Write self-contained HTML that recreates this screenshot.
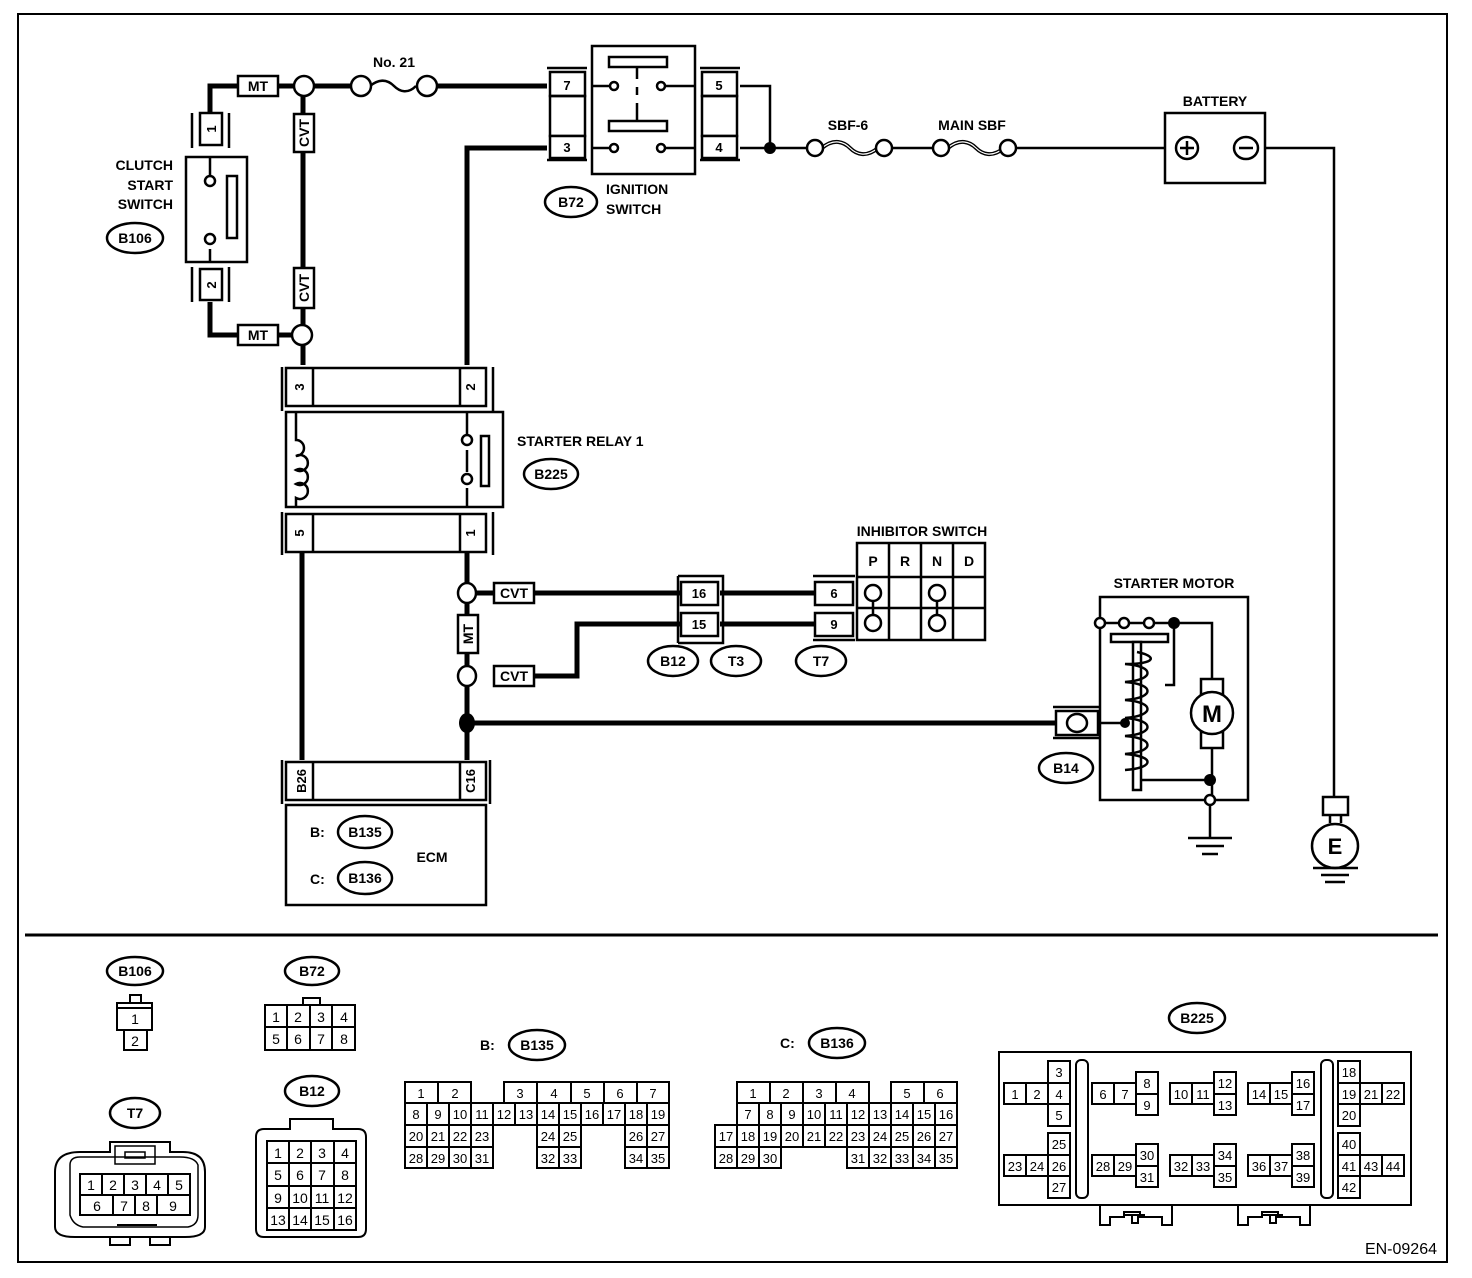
<!DOCTYPE html>
<html><head><meta charset="utf-8"><style>
html,body{margin:0;padding:0;background:#fff}
svg{display:block}
text{font-family:"Liberation Sans",sans-serif;fill:#000}
.b{font-weight:bold;font-size:14px}
.p{font-weight:bold;font-size:13px}
.n{font-size:14px}
.s{font-size:13px}
</style></head><body>
<svg width="1472" height="1278" viewBox="0 0 1472 1278" xmlns="http://www.w3.org/2000/svg">
<rect x="18" y="14" width="1429" height="1248" fill="none" stroke="#000" stroke-width="2"/>
<line x1="25" y1="935" x2="1438" y2="935" stroke="#000" stroke-width="3"/>

<g fill="none" stroke="#000" stroke-width="5">
<polyline points="210,112 210,86 547,86"/>
<polyline points="210,302 210,335 302,335"/>
<line x1="303" y1="86" x2="303" y2="365"/>
<polyline points="547,148 467,148 467,365"/>
<line x1="302" y1="552" x2="302" y2="760"/>
<line x1="467" y1="552" x2="467" y2="760"/>
<line x1="467" y1="593" x2="680" y2="593"/>
<polyline points="534,676 577,676 577,624 680,624"/>
<line x1="720" y1="593" x2="815" y2="593"/>
<line x1="720" y1="624" x2="815" y2="624"/>
<line x1="467" y1="723" x2="1058" y2="723"/>
</g>
<g fill="none" stroke="#000" stroke-width="2.5">
<polyline points="740,86 770,86 770,148"/>
<line x1="740" y1="148" x2="1165" y2="148"/>
<polyline points="1265,148 1334,148 1334,797"/>
</g>

<g fill="#fff" stroke="#000" stroke-width="2.5">
<rect x="238" y="76" width="40" height="20"/>
<rect x="238" y="325" width="40" height="20"/>
<rect x="294" y="114" width="20" height="38"/>
<rect x="294" y="268" width="20" height="40"/>
<rect x="494" y="583" width="40" height="20"/>
<rect x="494" y="666" width="40" height="20"/>
<rect x="458" y="615" width="20" height="38"/>
</g>
<text class="b" x="258" y="91" text-anchor="middle">MT</text>
<text class="b" x="258" y="340" text-anchor="middle">MT</text>
<text class="b" x="514" y="598" text-anchor="middle">CVT</text>
<text class="b" x="514" y="681" text-anchor="middle">CVT</text>
<text class="b" transform="translate(309,133) rotate(-90)" text-anchor="middle">CVT</text>
<text class="b" transform="translate(309,288) rotate(-90)" text-anchor="middle">CVT</text>
<text class="b" transform="translate(473,634) rotate(-90)" text-anchor="middle">MT</text>

<g fill="#fff" stroke="#000" stroke-width="2.5">
<circle cx="304" cy="86" r="10"/>
<circle cx="302" cy="335" r="10"/>
<ellipse cx="467" cy="593" rx="9" ry="10"/>
<ellipse cx="467" cy="676" rx="9" ry="10"/>
</g>
<ellipse cx="467" cy="723" rx="8" ry="10" fill="#000"/>
<circle cx="770" cy="148" r="6" fill="#000"/>

<rect x="366" y="80" width="54" height="12" fill="#fff"/>
<path d="M370,86 c10,-8 18,-6 24,0 c6,6 14,8 22,0" fill="none" stroke="#000" stroke-width="2.5"/>
<circle cx="361" cy="86" r="10" fill="#fff" stroke="#000" stroke-width="2.5"/>
<circle cx="427" cy="86" r="10" fill="#fff" stroke="#000" stroke-width="2.5"/>
<text class="b" x="394" y="67" text-anchor="middle">No. 21</text>

<rect x="822" y="141" width="56" height="14" fill="#fff"/>
<path d="M822,148 c12,-10 22,-6 28,0 c6,6 16,10 28,0" fill="none" stroke="#000" stroke-width="4"/>
<path d="M822,148 c12,-10 22,-6 28,0 c6,6 16,10 28,0" fill="none" stroke="#fff" stroke-width="1.2"/>
<rect x="948" y="141" width="54" height="14" fill="#fff"/>
<path d="M948,148 c12,-10 22,-6 28,0 c6,6 16,10 28,0" fill="none" stroke="#000" stroke-width="4"/>
<path d="M948,148 c12,-10 22,-6 28,0 c6,6 16,10 28,0" fill="none" stroke="#fff" stroke-width="1.2"/>
<g fill="#fff" stroke="#000" stroke-width="2.5">
<circle cx="815" cy="148" r="8"/><circle cx="884" cy="148" r="8"/>
<circle cx="941" cy="148" r="8"/><circle cx="1008" cy="148" r="8"/>
</g>
<text class="b" x="848" y="130" text-anchor="middle">SBF-6</text>
<text class="b" x="972" y="130" text-anchor="middle">MAIN SBF</text>

<rect x="1165" y="113" width="100" height="70" fill="#fff" stroke="#000" stroke-width="2.5"/>
<circle cx="1187" cy="148" r="11" fill="none" stroke="#000" stroke-width="2.5"/>
<path d="M1180,148h14M1187,141v14" stroke="#000" stroke-width="2.5"/>
<ellipse cx="1246" cy="148" rx="12" ry="11" fill="none" stroke="#000" stroke-width="2.5"/>
<path d="M1239,148h14" stroke="#000" stroke-width="2.5"/>
<text class="b" x="1215" y="106" text-anchor="middle">BATTERY</text>

<rect x="1323" y="797" width="25" height="18" fill="#fff" stroke="#000" stroke-width="2.5"/>
<path d="M1330,815v8M1341,815v8" stroke="#000" stroke-width="2.5"/>
<ellipse cx="1335" cy="846" rx="23" ry="22" fill="#fff" stroke="#000" stroke-width="2.5"/>
<text x="1335" y="854" text-anchor="middle" style="font-weight:bold;font-size:22px">E</text>
<path d="M1313,868h45M1321,875h28M1325,882h20" stroke="#000" stroke-width="2.5"/>

<g fill="none" stroke="#000" stroke-width="2.5">
<path d="M192,113v35M229,113v35M192,267v35M229,267v35"/>
<rect x="200" y="113" width="22" height="32" fill="#fff"/>
<rect x="200" y="269" width="22" height="31" fill="#fff"/>
<rect x="186" y="157" width="61" height="105" fill="#fff"/>
<line x1="210" y1="157" x2="210" y2="176"/><line x1="210" y1="249" x2="210" y2="262"/>
<circle cx="210" cy="181" r="5" fill="#fff"/><circle cx="210" cy="239" r="5" fill="#fff"/>
<rect x="227" y="176" width="10" height="62"/>
</g>
<text class="p" transform="translate(216,129) rotate(-90)" text-anchor="middle">1</text>
<text class="p" transform="translate(216,285) rotate(-90)" text-anchor="middle">2</text>
<text class="b" x="173" y="170" text-anchor="end">CLUTCH</text>
<text class="b" x="173" y="190" text-anchor="end">START</text>
<text class="b" x="173" y="209" text-anchor="end">SWITCH</text>

<g fill="none" stroke="#000" stroke-width="2.5">
<path d="M547,68h40M547,160h40M700,68h40M700,160h40"/>
<rect x="550" y="72" width="35" height="24" fill="#fff"/>
<rect x="550" y="96" width="35" height="40"/>
<rect x="550" y="136" width="35" height="22" fill="#fff"/>
<rect x="702" y="72" width="35" height="24" fill="#fff"/>
<rect x="702" y="96" width="35" height="40"/>
<rect x="702" y="136" width="35" height="22" fill="#fff"/>
<rect x="592" y="46" width="103" height="128" fill="#fff"/>
<rect x="609" y="57" width="58" height="10"/>
<rect x="609" y="121" width="58" height="10"/>
<path d="M637,67v12M637,87v8M637,103v18"/>
<path d="M592,86h18M664,86h31M592,148h18M664,148h31"/>
<circle cx="614" cy="86" r="4" fill="#fff"/><circle cx="661" cy="86" r="4" fill="#fff"/>
<circle cx="614" cy="148" r="4" fill="#fff"/><circle cx="661" cy="148" r="4" fill="#fff"/>
</g>
<text class="p" x="567" y="90" text-anchor="middle">7</text>
<text class="p" x="567" y="152" text-anchor="middle">3</text>
<text class="p" x="719" y="90" text-anchor="middle">5</text>
<text class="p" x="719" y="152" text-anchor="middle">4</text>
<ellipse cx="571" cy="202" rx="26" ry="15" fill="#fff" stroke="#000" stroke-width="2.5"/>
<text class="b" x="571" y="207" text-anchor="middle">B72</text>
<text class="b" x="606" y="194">IGNITION</text>
<text class="b" x="606" y="214">SWITCH</text>

<g fill="none" stroke="#000" stroke-width="2.5">
<path d="M282,367v44M493,367v44M282,512v43M493,512v43"/>
<rect x="286" y="368" width="200" height="38" fill="#fff"/>
<line x1="313" y1="368" x2="313" y2="406"/><line x1="460" y1="368" x2="460" y2="406"/>
<rect x="286" y="412" width="217" height="95" fill="#fff"/>
<rect x="286" y="514" width="200" height="38" fill="#fff"/>
<line x1="313" y1="514" x2="313" y2="552"/><line x1="460" y1="514" x2="460" y2="552"/>
<path d="M296,412v28 a8,8 0 1 1 0,16 a8,8 0 1 1 0,14 a8,8 0 1 1 0,14 a8,8 0 1 1 0,14 v9"/>
<path d="M467,412v22M467,450v22M467,488v19"/>
<circle cx="467" cy="440" r="5" fill="#fff"/><circle cx="467" cy="479" r="5" fill="#fff"/>
<rect x="481" y="436" width="8" height="50"/>
</g>
<text class="p" transform="translate(304,387) rotate(-90)" text-anchor="middle">3</text>
<text class="p" transform="translate(475,387) rotate(-90)" text-anchor="middle">2</text>
<text class="p" transform="translate(304,533) rotate(-90)" text-anchor="middle">5</text>
<text class="p" transform="translate(475,533) rotate(-90)" text-anchor="middle">1</text>
<text class="b" x="517" y="446">STARTER RELAY 1</text>
<ellipse cx="551" cy="474" rx="27" ry="15" fill="#fff" stroke="#000" stroke-width="2.5"/>
<text class="b" x="551" y="479" text-anchor="middle">B225</text>

<g fill="none" stroke="#000" stroke-width="2.5">
<path d="M678,576h45v5M678,643h45v-5M678,576v67M723,576v67"/>
<rect x="681" y="582" width="37" height="23" fill="#fff"/>
<rect x="681" y="613" width="37" height="23" fill="#fff"/>
<path d="M813,576h42M813,640h42"/>
<rect x="815" y="582" width="38" height="23" fill="#fff"/>
<rect x="815" y="613" width="38" height="23" fill="#fff"/>
</g>
<text class="p" x="699" y="598" text-anchor="middle">16</text>
<text class="p" x="699" y="629" text-anchor="middle">15</text>
<text class="p" x="834" y="598" text-anchor="middle">6</text>
<text class="p" x="834" y="629" text-anchor="middle">9</text>
<g fill="#fff" stroke="#000" stroke-width="2.5">
<ellipse cx="673" cy="661" rx="25" ry="15"/>
<ellipse cx="736" cy="661" rx="25" ry="15"/>
<ellipse cx="821" cy="661" rx="25" ry="15"/>
</g>
<text class="b" x="673" y="666" text-anchor="middle">B12</text>
<text class="b" x="736" y="666" text-anchor="middle">T3</text>
<text class="b" x="821" y="666" text-anchor="middle">T7</text>

<g fill="none" stroke="#000" stroke-width="2.5">
<rect x="857" y="543" width="128" height="97"/>
<path d="M889,543v97M921,543v97M953,543v97M857,577h128M857,608h128"/>
<path d="M873,600v14M937,600v14"/>
<circle cx="873" cy="593" r="8" fill="#fff"/><circle cx="873" cy="623" r="8" fill="#fff"/>
<circle cx="937" cy="593" r="8" fill="#fff"/><circle cx="937" cy="623" r="8" fill="#fff"/>
</g>
<text class="b" x="922" y="536" text-anchor="middle">INHIBITOR SWITCH</text>
<text class="b" x="873" y="566" text-anchor="middle">P</text>
<text class="b" x="905" y="566" text-anchor="middle">R</text>
<text class="b" x="937" y="566" text-anchor="middle">N</text>
<text class="b" x="969" y="566" text-anchor="middle">D</text>

<g fill="none" stroke="#000" stroke-width="2.5">
<path d="M1053,707h48M1053,738h48"/>
<rect x="1056" y="711" width="42" height="24" fill="#fff"/>
<ellipse cx="1077" cy="723" rx="10" ry="9"/>
<rect x="1100" y="597" width="148" height="203"/>
<path d="M1100,723h25M1104,623h70v62h-9M1174,623h38v56M1212,748v52M1134,780h76"/>
<rect x="1111" y="634" width="57" height="8" fill="#fff"/>
<rect x="1133" y="642" width="8" height="148" fill="#fff"/>
<path d="M1137,652 c20,4 20,12 -12,12 c30,2 30,16 0,18 c30,2 30,16 0,18 c30,2 30,16 0,18 c30,2 30,16 0,18 c30,2 30,16 0,18 c30,2 30,14 0,16"/>
<rect x="1201" y="679" width="22" height="16" fill="#fff"/>
<rect x="1201" y="732" width="22" height="16" fill="#fff"/>
<ellipse cx="1212" cy="713" rx="21" ry="21" fill="#fff"/>
<circle cx="1100" cy="623" r="5" fill="#fff"/><circle cx="1124" cy="623" r="5" fill="#fff"/><circle cx="1149" cy="623" r="5" fill="#fff"/>
<circle cx="1210" cy="800" r="5" fill="#fff"/>
<path d="M1210,805v33M1188,838h44M1196,846h28M1202,854h16"/>
</g>
<circle cx="1174" cy="623" r="6" fill="#000"/>
<circle cx="1125" cy="723" r="5" fill="#000"/>
<circle cx="1210" cy="780" r="6" fill="#000"/>
<text x="1212" y="722" text-anchor="middle" style="font-weight:bold;font-size:24px">M</text>
<text class="b" x="1174" y="588" text-anchor="middle">STARTER MOTOR</text>
<ellipse cx="1066" cy="768" rx="27" ry="15" fill="#fff" stroke="#000" stroke-width="2.5"/>
<text class="b" x="1066" y="773" text-anchor="middle">B14</text>

<g fill="none" stroke="#000" stroke-width="2.5">
<path d="M282,760v44M490,760v44"/>
<rect x="286" y="762" width="200" height="38" fill="#fff"/>
<line x1="313" y1="762" x2="313" y2="800"/><line x1="460" y1="762" x2="460" y2="800"/>
<rect x="286" y="805" width="200" height="100" fill="#fff"/>
</g>
<text class="p" transform="translate(306,781) rotate(-90)" text-anchor="middle">B26</text>
<text class="p" transform="translate(475,781) rotate(-90)" text-anchor="middle">C16</text>
<text class="b" x="310" y="837">B:</text>
<text class="b" x="310" y="884">C:</text>
<ellipse cx="365" cy="832" rx="27" ry="16" fill="#fff" stroke="#000" stroke-width="2.5"/>
<ellipse cx="365" cy="878" rx="27" ry="16" fill="#fff" stroke="#000" stroke-width="2.5"/>
<text class="b" x="365" y="837" text-anchor="middle">B135</text>
<text class="b" x="365" y="883" text-anchor="middle">B136</text>
<text class="b" x="432" y="862" text-anchor="middle">ECM</text>
<ellipse cx="135" cy="238" rx="28" ry="15" fill="#fff" stroke="#000" stroke-width="2.5"/>
<text class="b" x="135" y="243" text-anchor="middle">B106</text>

<g fill="#fff" stroke="#000" stroke-width="2.5">
<ellipse cx="135" cy="971" rx="28" ry="14"/>
<ellipse cx="312" cy="971" rx="27" ry="14"/>
<ellipse cx="135" cy="1113" rx="25" ry="15"/>
<ellipse cx="312" cy="1091" rx="27" ry="15"/>
<ellipse cx="537" cy="1045" rx="28" ry="15"/>
<ellipse cx="837" cy="1043" rx="28" ry="15"/>
<ellipse cx="1197" cy="1018" rx="28" ry="15"/>
</g>
<text class="b" x="135" y="976" text-anchor="middle">B106</text>
<text class="b" x="312" y="976" text-anchor="middle">B72</text>
<text class="b" x="135" y="1118" text-anchor="middle">T7</text>
<text class="b" x="312" y="1096" text-anchor="middle">B12</text>
<text class="b" x="537" y="1050" text-anchor="middle">B135</text>
<text class="b" x="837" y="1048" text-anchor="middle">B136</text>
<text class="b" x="1197" y="1023" text-anchor="middle">B225</text>
<text class="b" x="480" y="1050">B:</text>
<text class="b" x="780" y="1048">C:</text>

<g fill="none" stroke="#000" stroke-width="2">
<rect x="130" y="995" width="11" height="8" fill="#fff"/>
<rect x="117" y="1003" width="35" height="27" fill="#fff"/>
<line x1="117" y1="1008" x2="152" y2="1008"/>
<rect x="124" y="1030" width="23" height="20" fill="#fff"/>
<rect x="303" y="998" width="17" height="7"/>
<rect x="265" y="1005" width="90" height="45"/>
<path d="M265,1027h90M287,1005v45M310,1005v45M332,1005v45"/>
<path d="M80,1152h30v-10h60v10h13 q22,0 22,20v55 q0,10 -20,10 h-110 q-20,0 -20,-10v-55 q0,-20 25,-20z"/>
<path d="M70,1165 q0,-8 10,-8h100 q15,0 18,8v50 q0,10 -10,12h-105 q-10,-2 -13,-12z" stroke-width="1.5"/>
<rect x="115" y="1146" width="40" height="18" stroke-width="1.5"/>
<rect x="125" y="1152" width="20" height="6" stroke-width="1.5"/>
<rect x="80" y="1174" width="110" height="41"/>
<path d="M80,1195h110M102,1174v21M124,1174v21M146,1174v21M168,1174v21M113,1195v20M135,1195v20M157,1195v20"/>
<path d="M117,1225h40M110,1237v8h20v-8M150,1237v8h20v-8"/>
<path d="M290,1129v-10h43v10h25 q8,0 8,8v92 q0,8 -8,8h-94 q-8,0 -8,-8v-92 q0,-8 8,-8z"/>
<rect x="267" y="1141" width="89" height="89"/>
<path d="M267,1163h89M267,1186h89M267,1208h89M289,1141v89M311,1141v89M334,1141v89"/>
</g>
<g class="n" text-anchor="middle">
<text x="135" y="1024">1</text><text x="135" y="1046">2</text>
<text x="276" y="1022">1</text><text x="298" y="1022">2</text><text x="321" y="1022">3</text><text x="344" y="1022">4</text>
<text x="276" y="1044">5</text><text x="298" y="1044">6</text><text x="321" y="1044">7</text><text x="344" y="1044">8</text>
<text x="91" y="1190">1</text><text x="113" y="1190">2</text><text x="135" y="1190">3</text><text x="157" y="1190">4</text><text x="179" y="1190">5</text>
<text x="97" y="1211">6</text><text x="124" y="1211">7</text><text x="146" y="1211">8</text><text x="173" y="1211">9</text>
<text x="278" y="1158">1</text><text x="300" y="1158">2</text><text x="322" y="1158">3</text><text x="345" y="1158">4</text>
<text x="278" y="1180">5</text><text x="300" y="1180">6</text><text x="322" y="1180">7</text><text x="345" y="1180">8</text>
<text x="278" y="1203">9</text><text x="300" y="1203">10</text><text x="322" y="1203">11</text><text x="345" y="1203">12</text>
<text x="278" y="1225">13</text><text x="300" y="1225">14</text><text x="322" y="1225">15</text><text x="345" y="1225">16</text>
</g>

<g fill="none" stroke="#000" stroke-width="2">
<rect x="405" y="1082" width="66" height="21"/><line x1="438" y1="1082" x2="438" y2="1103"/>
<rect x="504" y="1082" width="165" height="21"/>
<path d="M537,1082v21M571,1082v21M604,1082v21M637,1082v21"/>
<rect x="405" y="1103" width="264" height="22"/>
<path d="M427,1103v22M449,1103v22M471,1103v22M493,1103v22M515,1103v22M537,1103v22M559,1103v22M581,1103v22M603,1103v22M625,1103v22M647,1103v22"/>
<rect x="405" y="1125" width="88" height="43"/><path d="M405,1147h88M427,1125v43M449,1125v43M471,1125v43"/>
<rect x="537" y="1125" width="44" height="43"/><path d="M537,1147h44M559,1125v43"/>
<rect x="625" y="1125" width="44" height="43"/><path d="M625,1147h44M647,1125v43"/>
</g>
<g class="s" text-anchor="middle">
<text x="421" y="1098">1</text><text x="455" y="1098">2</text><text x="520" y="1098">3</text><text x="554" y="1098">4</text><text x="587" y="1098">5</text><text x="620" y="1098">6</text><text x="653" y="1098">7</text>
<text x="416" y="1119">8</text><text x="438" y="1119">9</text><text x="460" y="1119">10</text><text x="482" y="1119">11</text><text x="504" y="1119">12</text><text x="526" y="1119">13</text><text x="548" y="1119">14</text><text x="570" y="1119">15</text><text x="592" y="1119">16</text><text x="614" y="1119">17</text><text x="636" y="1119">18</text><text x="658" y="1119">19</text>
<text x="416" y="1141">20</text><text x="438" y="1141">21</text><text x="460" y="1141">22</text><text x="482" y="1141">23</text><text x="548" y="1141">24</text><text x="570" y="1141">25</text><text x="636" y="1141">26</text><text x="658" y="1141">27</text>
<text x="416" y="1163">28</text><text x="438" y="1163">29</text><text x="460" y="1163">30</text><text x="482" y="1163">31</text><text x="548" y="1163">32</text><text x="570" y="1163">33</text><text x="636" y="1163">34</text><text x="658" y="1163">35</text>
</g>

<g fill="none" stroke="#000" stroke-width="2">
<rect x="737" y="1082" width="132" height="21"/><path d="M770,1082v21M803,1082v21M836,1082v21"/>
<rect x="891" y="1082" width="66" height="21"/><line x1="924" y1="1082" x2="924" y2="1103"/>
<rect x="737" y="1103" width="220" height="22"/>
<path d="M759,1103v22M781,1103v22M803,1103v22M825,1103v22M847,1103v22M869,1103v22M891,1103v22M913,1103v22M935,1103v22"/>
<rect x="715" y="1125" width="242" height="22"/>
<path d="M737,1125v22M759,1125v22M781,1125v22M803,1125v22M825,1125v22M847,1125v22M869,1125v22M891,1125v22M913,1125v22M935,1125v22"/>
<rect x="715" y="1147" width="66" height="21"/><path d="M737,1147v21M759,1147v21"/>
<rect x="847" y="1147" width="110" height="21"/><path d="M869,1147v21M891,1147v21M913,1147v21M935,1147v21"/>
</g>
<g class="s" text-anchor="middle">
<text x="753" y="1098">1</text><text x="786" y="1098">2</text><text x="819" y="1098">3</text><text x="852" y="1098">4</text><text x="907" y="1098">5</text><text x="940" y="1098">6</text>
<text x="748" y="1119">7</text><text x="770" y="1119">8</text><text x="792" y="1119">9</text><text x="814" y="1119">10</text><text x="836" y="1119">11</text><text x="858" y="1119">12</text><text x="880" y="1119">13</text><text x="902" y="1119">14</text><text x="924" y="1119">15</text><text x="946" y="1119">16</text>
<text x="726" y="1141">17</text><text x="748" y="1141">18</text><text x="770" y="1141">19</text><text x="792" y="1141">20</text><text x="814" y="1141">21</text><text x="836" y="1141">22</text><text x="858" y="1141">23</text><text x="880" y="1141">24</text><text x="902" y="1141">25</text><text x="924" y="1141">26</text><text x="946" y="1141">27</text>
<text x="726" y="1163">28</text><text x="748" y="1163">29</text><text x="770" y="1163">30</text><text x="858" y="1163">31</text><text x="880" y="1163">32</text><text x="902" y="1163">33</text><text x="924" y="1163">34</text><text x="946" y="1163">35</text>
</g>

<g fill="none" stroke="#000" stroke-width="2">
<rect x="999" y="1052" width="412" height="153"/>
<rect x="1076" y="1060" width="12" height="138" rx="5"/>
<rect x="1321" y="1060" width="12" height="138" rx="5"/>
<path d="M1100,1205v20h10v-8h14v-5h16v5h22v8h10v-20"/>
<path d="M1238,1205v20h10v-8h14v-5h16v5h22v8h10v-20"/>
<path d="M1125,1215h20M1132,1215v8h6v-8M1263,1215h20M1270,1215v8h6v-8"/>
<rect x="1004" y="1083" width="44" height="21"/><line x1="1026" y1="1083" x2="1026" y2="1104"/>
<rect x="1048" y="1061" width="22" height="65"/><path d="M1048,1083h22M1048,1104h22"/>
<rect x="1004" y="1155" width="44" height="21"/><line x1="1026" y1="1155" x2="1026" y2="1176"/>
<rect x="1048" y="1133" width="22" height="65"/><path d="M1048,1155h22M1048,1176h22"/>
<rect x="1092" y="1083" width="44" height="21"/><line x1="1114" y1="1083" x2="1114" y2="1104"/>
<rect x="1136" y="1072" width="22" height="43"/><line x1="1136" y1="1094" x2="1158" y2="1094"/>
<rect x="1092" y="1155" width="44" height="21"/><line x1="1114" y1="1155" x2="1114" y2="1176"/>
<rect x="1136" y="1144" width="22" height="43"/><line x1="1136" y1="1166" x2="1158" y2="1166"/>
<rect x="1170" y="1083" width="44" height="21"/><line x1="1192" y1="1083" x2="1192" y2="1104"/>
<rect x="1214" y="1072" width="22" height="43"/><line x1="1214" y1="1094" x2="1236" y2="1094"/>
<rect x="1170" y="1155" width="44" height="21"/><line x1="1192" y1="1155" x2="1192" y2="1176"/>
<rect x="1214" y="1144" width="22" height="43"/><line x1="1214" y1="1166" x2="1236" y2="1166"/>
<rect x="1248" y="1083" width="44" height="21"/><line x1="1270" y1="1083" x2="1270" y2="1104"/>
<rect x="1292" y="1072" width="22" height="43"/><line x1="1292" y1="1094" x2="1314" y2="1094"/>
<rect x="1248" y="1155" width="44" height="21"/><line x1="1270" y1="1155" x2="1270" y2="1176"/>
<rect x="1292" y="1144" width="22" height="43"/><line x1="1292" y1="1166" x2="1314" y2="1166"/>
<rect x="1338" y="1061" width="22" height="65"/><path d="M1338,1083h22M1338,1104h22"/>
<rect x="1360" y="1083" width="44" height="21"/><line x1="1382" y1="1083" x2="1382" y2="1104"/>
<rect x="1338" y="1133" width="22" height="65"/><path d="M1338,1155h22M1338,1176h22"/>
<rect x="1360" y="1155" width="44" height="21"/><line x1="1382" y1="1155" x2="1382" y2="1176"/>
</g>
<g class="s" text-anchor="middle">
<text x="1015" y="1099">1</text><text x="1037" y="1099">2</text><text x="1059" y="1077">3</text><text x="1059" y="1099">4</text><text x="1059" y="1120">5</text>
<text x="1015" y="1171">23</text><text x="1037" y="1171">24</text><text x="1059" y="1149">25</text><text x="1059" y="1171">26</text><text x="1059" y="1192">27</text>
<text x="1103" y="1099">6</text><text x="1125" y="1099">7</text><text x="1147" y="1088">8</text><text x="1147" y="1110">9</text>
<text x="1103" y="1171">28</text><text x="1125" y="1171">29</text><text x="1147" y="1160">30</text><text x="1147" y="1182">31</text>
<text x="1181" y="1099">10</text><text x="1203" y="1099">11</text><text x="1225" y="1088">12</text><text x="1225" y="1110">13</text>
<text x="1181" y="1171">32</text><text x="1203" y="1171">33</text><text x="1225" y="1160">34</text><text x="1225" y="1182">35</text>
<text x="1259" y="1099">14</text><text x="1281" y="1099">15</text><text x="1303" y="1088">16</text><text x="1303" y="1110">17</text>
<text x="1259" y="1171">36</text><text x="1281" y="1171">37</text><text x="1303" y="1160">38</text><text x="1303" y="1182">39</text>
<text x="1349" y="1077">18</text><text x="1349" y="1099">19</text><text x="1349" y="1120">20</text><text x="1371" y="1099">21</text><text x="1393" y="1099">22</text>
<text x="1349" y="1149">40</text><text x="1349" y="1171">41</text><text x="1349" y="1192">42</text><text x="1371" y="1171">43</text><text x="1393" y="1171">44</text>
</g>

<text x="1437" y="1254" text-anchor="end" style="font-size:16px">EN-09264</text>
</svg>
</body></html>
